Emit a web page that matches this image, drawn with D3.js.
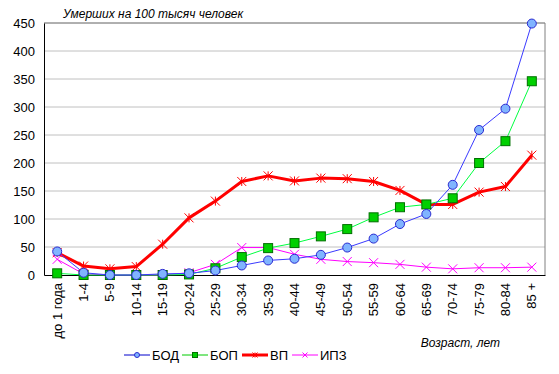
<!DOCTYPE html>
<html>
<head>
<meta charset="utf-8">
<script src="https://cdn.jsdelivr.net/npm/d3@7/dist/d3.min.js"></script>
<style>
  body { margin: 0; background: #fff; }
  svg { display: block; font-family: "Liberation Sans", Arial, sans-serif; }
</style>
</head>
<body>
<div id="chart"></div>
<script>
const ages = ["до 1 года", "1-4", "5-9", "10-14", "15-19", "20-24", "25-29", "30-34", "35-39",
  "40-44", "45-49", "50-54", "55-59", "60-64", "65-69", "70-74", "75-79", "80-84", "85 +"];

const bod = [42, 4, 0, 0, 2, 3, 8, 17, 26, 29, 36, 49, 65, 91, 109, 161, 259, 297, 449];
const bop = [3, 0, 0, 0, 0, 1, 12, 32, 48, 57, 69, 82, 103, 121, 126, 137, 200, 239, 346];
const vp = [40, 16, 11, 15, 55, 102, 132, 167, 177, 168, 173, 172, 167, 151, 126, 126, 148, 158, 214];
const ipz = [28, 2, 0, 0, 0, 4, 19, 49, 49, 37, 28, 24, 22, 19, 14, 11, 13, 13, 14];

const yTicks = [0, 50, 100, 150, 200, 250, 300, 350, 400, 450];

const width = 559, height = 374;
const margin = { top: 23, right: 14, bottom: 99, left: 44 };

const svg = d3.select("#chart").append("svg")
  .attr("width", width)
  .attr("height", height);

const x = d3.scaleBand()
  .domain(ages)
  .range([margin.left, width - margin.right]);

const y = d3.scaleLinear()
  .domain([0, 450])
  .range([height - margin.bottom, margin.top]);

const cx = d => x(d) + x.bandwidth() / 2;

// grid
svg.append("g")
  .selectAll("line")
  .data(yTicks.filter(t => t > 0))
  .join("line")
    .attr("x1", margin.left)
    .attr("x2", width - margin.right)
    .attr("y1", d => y(d))
    .attr("y2", d => y(d))
    .attr("stroke", "#c0c0c0")
    .attr("stroke-width", 1);

// plot frame (top + right gray)
svg.append("path")
  .attr("d", `M${margin.left},${y(450)}H${width - margin.right}V${y(0)}`)
  .attr("fill", "none")
  .attr("stroke", "#808080");

// y axis
const yAxis = svg.append("g")
  .attr("transform", `translate(${margin.left},0)`)
  .call(d3.axisLeft(y).tickValues(yTicks).tickSize(0).tickPadding(9));
yAxis.select(".domain").attr("stroke", "#000");
yAxis.selectAll("text").attr("font-size", 13).attr("fill", "#000")
  .attr("font-family", "Liberation Sans, Arial, sans-serif");

// x axis
const xAxis = svg.append("g")
  .attr("transform", `translate(0,${y(0)})`)
  .call(d3.axisBottom(x).tickSize(0).tickPadding(0));
xAxis.select(".domain").attr("stroke", "#000");
xAxis.selectAll("text")
  .attr("font-size", 13)
  .attr("fill", "#000")
  .attr("font-family", "Liberation Sans, Arial, sans-serif")
  .attr("transform", "rotate(-90)")
  .attr("text-anchor", "end")
  .attr("dy", "0.35em")
  .attr("x", -8)
  .attr("y", 0);

const series = [
  { name: "БОД", values: bod, line: "#3a3aff", lw: 1, marker: "circle", fill: "#80b4ff", mstroke: "#2a2ad0", legendLine: "#0000cc" },
  { name: "БОП", values: bop, line: "#00ff40", lw: 1, marker: "square", fill: "#00d000", mstroke: "#007000", legendLine: "#00cc00" },
  { name: "ВП", values: vp, line: "#ff0000", lw: 3, marker: "star", fill: "none", mstroke: "#ff0000", legendLine: "#ff0000" },
  { name: "ИПЗ", values: ipz, line: "#ff00ff", lw: 1, marker: "cross", fill: "none", mstroke: "#ff00ff", legendLine: "#ff00ff" }
];

const line = d3.line()
  .x((d, i) => cx(ages[i]))
  .y(d => y(d));

function drawMarker(g, type, px, py, s, fill, stroke) {
  if (type === "circle") {
    g.append("circle").attr("cx", px).attr("cy", py).attr("r", s)
      .attr("fill", fill).attr("stroke", stroke).attr("stroke-width", 1);
  } else if (type === "square") {
    g.append("rect").attr("x", px - s).attr("y", py - s).attr("width", 2 * s).attr("height", 2 * s)
      .attr("fill", fill).attr("stroke", stroke).attr("stroke-width", 1);
  } else if (type === "star") {
    g.append("path")
      .attr("d", `M${px - s},${py - s}L${px + s},${py + s}M${px - s},${py + s}L${px + s},${py - s}M${px},${py - s}V${py + s}`)
      .attr("stroke", stroke).attr("stroke-width", 1).attr("fill", "none");
  } else {
    g.append("path")
      .attr("d", `M${px - s},${py - s}L${px + s},${py + s}M${px - s},${py + s}L${px + s},${py - s}`)
      .attr("stroke", stroke).attr("stroke-width", 1).attr("fill", "none");
  }
}

// draw in order: ИПЗ under, then others as in reference
const drawOrder = [series[3], series[2], series[1], series[0]];
drawOrder.forEach(s => {
  svg.append("path")
    .datum(s.values)
    .attr("d", line)
    .attr("fill", "none")
    .attr("stroke", s.line)
    .attr("stroke-width", s.lw)
    .attr("stroke-linejoin", "round");
});
drawOrder.forEach(s => {
  const g = svg.append("g");
  s.values.forEach((v, i) => drawMarker(g, s.marker, cx(ages[i]), y(v), s.marker === "circle" ? 4.5 : 4.5, s.fill, s.mstroke));
});

// title
svg.append("text")
  .attr("x", 63)
  .attr("y", 18)
  .attr("font-size", 12)
  .attr("font-style", "italic")
  .attr("fill", "#000")
  .text("Умерших на 100 тысяч человек");

svg.append("text")
  .attr("x", 500)
  .attr("y", 347)
  .attr("text-anchor", "end")
  .attr("font-size", 12)
  .attr("font-style", "italic")
  .attr("fill", "#000")
  .text("Возраст, лет");

// legend
const legendX = [124, 182, 242, 292];
series.forEach((s, i) => {
  const g = svg.append("g");
  const lx = legendX[i], ly = 355;
  g.append("line").attr("x1", lx).attr("x2", lx + 26).attr("y1", ly).attr("y2", ly)
    .attr("stroke", s.legendLine).attr("stroke-width", s.lw);
  drawMarker(g, s.marker, lx + 13, ly, 2.5, s.fill, s.mstroke);
  g.append("text").attr("x", lx + 28).attr("y", ly).attr("dy", "0.35em")
    .attr("font-size", 13).attr("fill", "#000").text(s.name);
});
</script>
</body>
</html>
